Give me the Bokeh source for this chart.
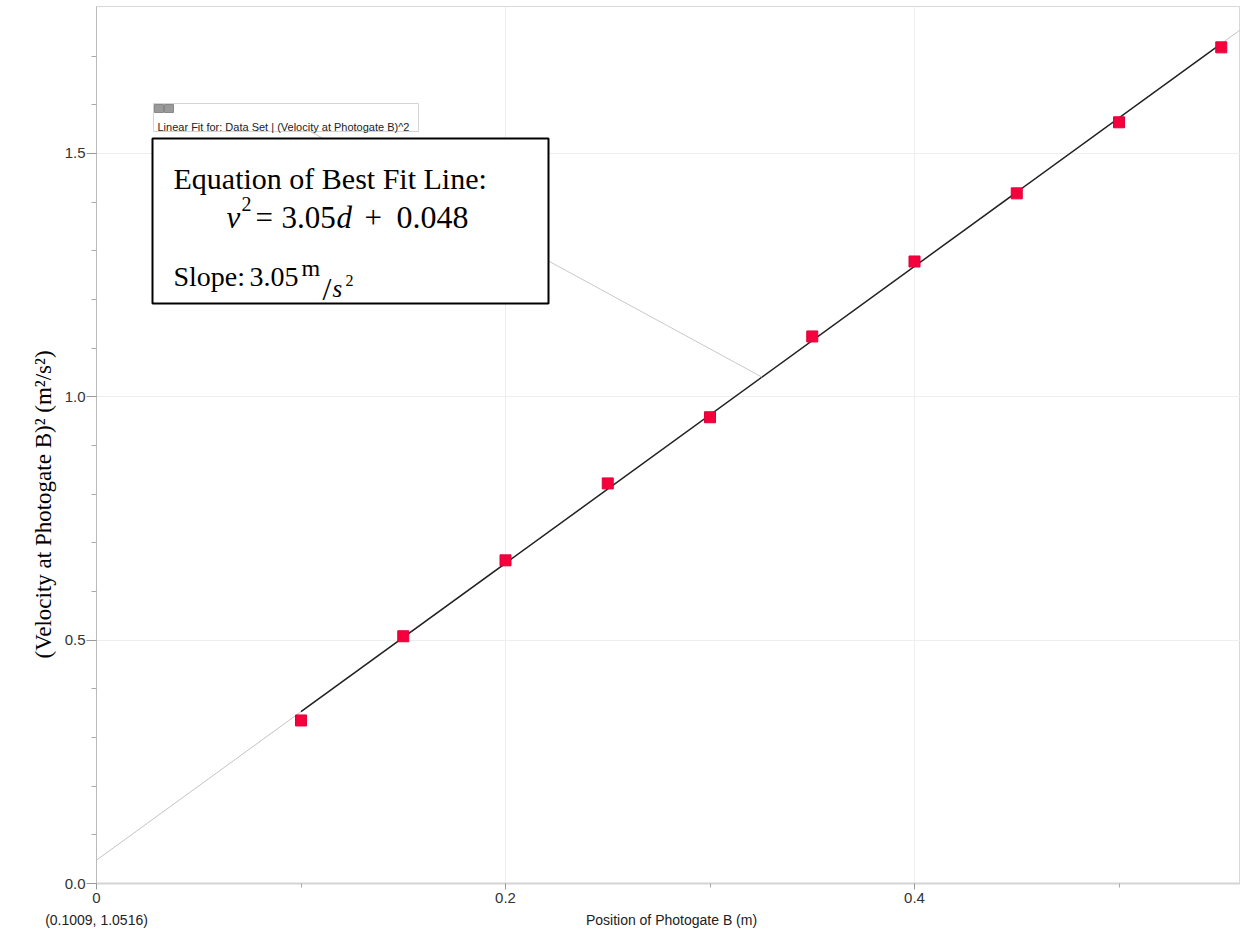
import numpy as np
from bokeh.plotting import figure
from bokeh.models import (Range1d, FixedTicker, NumeralTickFormatter, Label, BoxAnnotation,
                          ColumnDataSource, LinearAxis, CustomJSTickFormatter, Title)
from bokeh.embed import file_html
from bokeh.resources import INLINE

# ---- data ----
position = [0.10, 0.15, 0.20, 0.25, 0.30, 0.35, 0.40, 0.45, 0.50, 0.55]
velocity_sq = [0.335, 0.508, 0.664, 0.822, 0.958, 1.124, 1.278, 1.418, 1.564, 1.718]
fit_slope = 3.05
fit_intercept = 0.048
x_major = [0.0, 0.2, 0.4]
x_minor = [0.1, 0.3, 0.5]
y_major = [0.0, 0.5, 1.0, 1.5]
y_minor = [0.1, 0.2, 0.3, 0.4, 0.6, 0.7, 0.8, 0.9, 1.1, 1.2, 1.3, 1.4, 1.6, 1.7]
x_title = "Position of Photogate B (m)"
y_title = "(Velocity at Photogate B)\u00b2 (m\u00b2/s\u00b2)"
cursor_readout = "(0.1009, 1.0516)"
fit_label = "Linear Fit for: Data Set | (Velocity at Photogate B)^2"
leader_from = (0.102, 1.551)
leader_to_x = 0.3254

W, H = 1240, 932
BL, BT, BB = 96, 6, 49
FW, FH = W - BL, H - BT - BB
XS, YS = 2045.0, 486.7
X_END = FW / XS
Y_END = FH / YS
FRAME_BOTTOM = H - BB

def dx(px):  # canvas pixel -> data x
    return (px - BL) / XS

def dy(py):  # canvas pixel -> data y
    return (FRAME_BOTTOM - py) / YS

p = figure(width=W, height=H, output_backend="svg", toolbar_location=None,
           x_range=Range1d(0, X_END), y_range=Range1d(0, Y_END),
           min_border_left=BL, min_border_right=0, min_border_top=BT, min_border_bottom=BB)
p.background_fill_color = "white"
p.border_fill_color = "white"
p.outline_line_color = "#d8d8d8"

for ax in (p.xaxis[0], p.yaxis[0]):
    ax.major_label_text_font = "Liberation Sans"
    ax.major_label_text_font_size = "15px"
    ax.major_label_text_color = "#333333"
    ax.major_tick_in = 0
    ax.minor_tick_in = 0
    ax.major_tick_line_color = "#999999"
    ax.minor_tick_line_color = "#aaaaaa"

p.xaxis.ticker = FixedTicker(ticks=x_major, minor_ticks=x_minor)
p.xaxis.formatter = NumeralTickFormatter(format="0.[0]")
p.xaxis.major_tick_out = 6
p.xaxis.minor_tick_out = 4
p.xaxis.major_label_standoff = 3
p.xaxis.axis_line_color = "#d4d4d4"
p.xaxis.axis_line_width = 2

p.yaxis.ticker = FixedTicker(ticks=y_major, minor_ticks=y_minor)
p.yaxis.formatter = NumeralTickFormatter(format="0.0")
p.yaxis.major_tick_out = 10
p.yaxis.minor_tick_out = 5
p.yaxis.major_label_standoff = 1
p.yaxis.axis_line_color = "#bbbbbb"

p.xgrid.ticker = FixedTicker(ticks=x_major)
p.ygrid.ticker = FixedTicker(ticks=y_major)
p.grid.grid_line_color = "#eeeeee"

# second row under the x axis: cursor readout + axis title
p.extra_x_ranges = {"page": Range1d(BL, W)}
ax2 = LinearAxis(x_range_name="page", ticker=FixedTicker(ticks=[BL, 671]),
                 formatter=CustomJSTickFormatter(args=dict(labels=[cursor_readout, x_title]),
                                                 code="return labels[index];"))
ax2.axis_line_color = None
ax2.major_tick_line_color = None
ax2.minor_tick_line_color = None
ax2.major_label_standoff = 0
ax2.major_label_text_font = "Liberation Sans"
ax2.major_label_text_font_size = "14px"
ax2.major_label_text_color = "#222222"
p.add_layout(ax2, "below")

# y title (left panel)
p.add_layout(Title(text=y_title, align="left", offset=FRAME_BOTTOM - 658, text_font="Liberation Serif",
                   text_font_size="23px", text_font_style="normal", text_color="black", standoff=12), "left")

# fit lines
fx_all = np.array([0.0, X_END])
p.line(fx_all, fit_slope * fx_all + fit_intercept, line_color="#c4c4c4", line_width=1)
fx = np.array([position[0], position[-1]])
p.line(fx, fit_slope * fx + fit_intercept, line_color="#222222", line_width=1.5)

# leader line
lx = [leader_from[0], leader_to_x]
ly = [leader_from[1], fit_slope * leader_to_x + fit_intercept]
p.line(lx, ly, line_color="#c8c8c8", line_width=1)

# data points
src = ColumnDataSource(dict(x=position, y=velocity_sq))
p.scatter("x", "y", source=src, marker="square", size=11, fill_color="#f5003c", line_color="#e0003a")

def box(l, t, r, b, fill, line, lw):
    p.add_layout(BoxAnnotation(left=dx(l), right=dx(r), top=dy(t), bottom=dy(b),
                               fill_color=fill, fill_alpha=1, line_color=line, line_alpha=1, line_width=lw))

# small fit label
box(153, 103, 418, 131, "white", "#d4d4d4", 1)
box(154, 104, 163, 112, "#9a9a9a", "#888888", 1)
box(164, 104, 173, 112, "#9a9a9a", "#888888", 1)

SERIF = "Liberation Serif"
def lab(px, py, text, size, style="normal", font=SERIF, color="black"):
    p.add_layout(Label(x=dx(px), y=dy(py), text=text, text_font=font, text_font_size=f"{size}px",
                       text_font_style=style, text_align="left", text_baseline="alphabetic",
                       text_color=color))

lab(157, 126, fit_label, 11, font="Liberation Sans", color="#222222")

# main equation box
box(152, 138, 548, 303, "white", "black", 2)

lab(173, 178, "Equation of Best Fit Line:", 30)
lab(226, 217, "v", 31, "italic")
lab(241, 203, "2", 20)
lab(255, 217, "=", 31)
lab(281, 217, "3.05", 31)
lab(336, 217, "d", 31, "italic")
lab(364, 217, "+", 31)
lab(396, 217, "0.048", 32)
lab(173, 276, "Slope:", 28)
lab(249, 276, "3.05", 28)
lab(301, 267, "m", 24)
lab(322, 288, "/", 32)
lab(332, 288, "s", 25, "italic")
lab(345, 280, "2", 16)

open("out.html", "w").write(file_html(p, INLINE))
